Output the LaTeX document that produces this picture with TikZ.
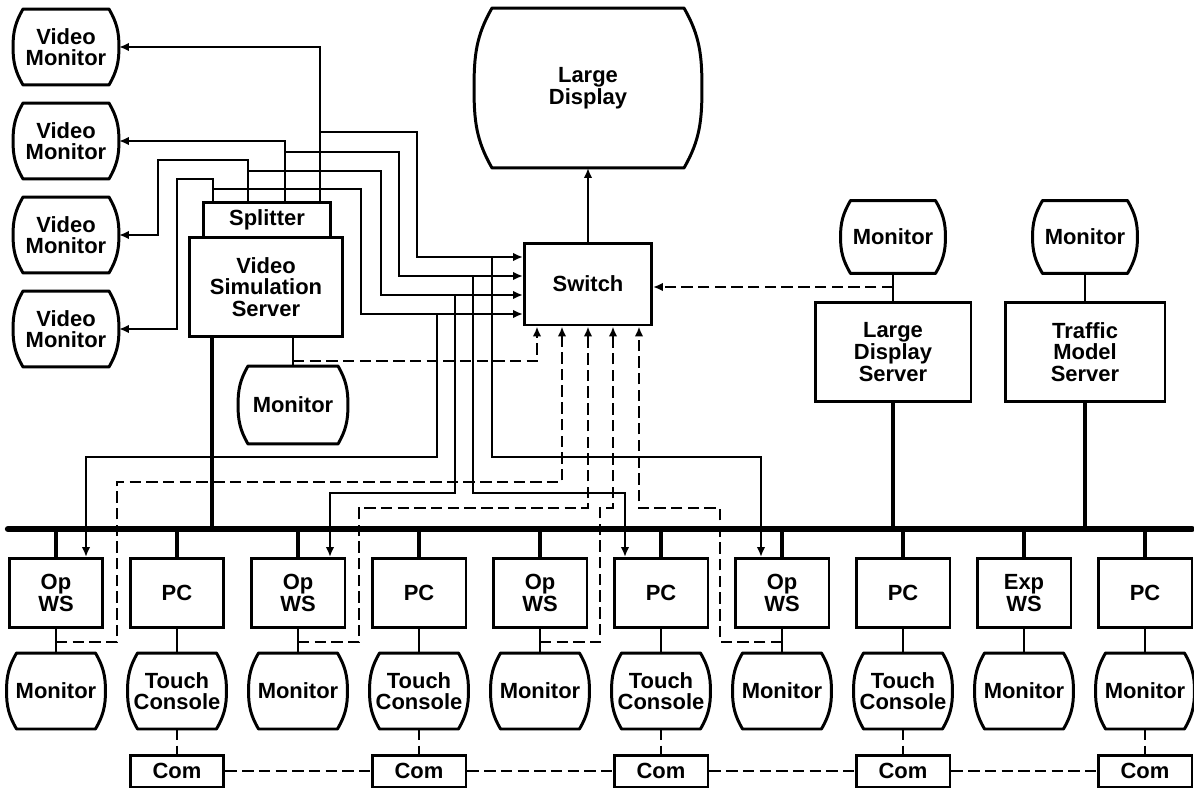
\documentclass[tikz,border=0pt]{standalone}
\usepackage{fontspec}
\setmainfont{Liberation Sans}
\usetikzlibrary{arrows.meta}

\begin{document}
\begin{tikzpicture}[x=0.02cm, y=-0.02cm,
    box/.style={draw, line width=1.7pt, align=center, inner sep=1pt,
      font=\bfseries\fontsize{12.5}{12.3}\selectfont},
    unit/.style={box, minimum width=1.88cm, minimum height=1.38cm},
    scr/.style={box, draw=none, append after command={\pgfextra{
        \draw[line width=1.7pt, line join=round]
          ([xshift=#1]\tikzlastnode.north west) -- ([xshift=-#1]\tikzlastnode.north east)
          to[out=-60, in=90] (\tikzlastnode.east)
          to[out=-90, in=60] ([xshift=-#1]\tikzlastnode.south east)
          -- ([xshift=#1]\tikzlastnode.south west)
          to[out=120, in=-90] (\tikzlastnode.west)
          to[out=90, in=-120] cycle;}}},
    scr/.default=2mm,
    low/.style={scr, minimum width=1.92cm, minimum height=1.46cm},
    com/.style={box, minimum width=1.88cm, minimum height=0.64cm},
    ln/.style={line width=1.4pt},
    dln/.style={ln, dash pattern=on 6.5pt off 3pt},
    fl/.style={ln, -{Latex[length=2mm, width=1.7mm]}},
    dfl/.style={dln, -{Latex[length=2mm, width=1.7mm]}},
    bus/.style={line width=3.6pt, line cap=round},
    tap/.style={line width=2.8pt}
  ]
  \useasboundingbox (0,0) rectangle (1194,788);

  % video side
  \foreach \i/\y in {1/47, 2/141, 3/235, 4/329}
    \node[scr, minimum width=2.06cm, minimum height=1.46cm] (vm\i) at (66,\y) {Video\\Monitor};
  \node[box, minimum width=2.54cm, minimum height=0.7cm] (split) at (267,220) {Splitter};
  \node[box, minimum width=3.06cm, minimum height=1.98cm] (vss) at (266,287) {Video\\Simulation\\Server};
  \node[scr, minimum width=2.14cm, minimum height=1.5cm] (vmon) at (293,405) {Monitor};

  \node[scr=3.6mm, minimum width=4.5cm, minimum height=3.14cm] (disp) at (588,88) {Large\\Display};
  \node[box, minimum width=2.54cm, minimum height=1.64cm] (sw) at (588,284) {Switch};

  % servers on the right
  \node[scr, minimum width=2.04cm, minimum height=1.4cm] (ldmon) at (893,237) {Monitor};
  \node[box, minimum width=3.12cm, minimum height=1.98cm] (lds) at (893,352) {Large\\Display\\Server};
  \node[scr, minimum width=2.04cm, minimum height=1.4cm] (tmmon) at (1085,237) {Monitor};
  \node[box, minimum width=3.2cm, minimum height=1.98cm] (tms) at (1085,352) {Traffic\\Model\\Server};

  % workstations and PCs
  \foreach \n/\x/\lbl in {ws1/56/{Op\\WS}, pc1/177/PC, ws2/298/{Op\\WS}, pc2/419/PC,
      ws3/540/{Op\\WS}, pc3/661/PC, ws4/782/{Op\\WS}, pc4/903/PC,
      exws/1024/{Exp\\WS}, pc5/1145/PC}
    \node[unit] (\n) at (\x,593) {\lbl};

  \foreach \n/\m/\lbl in {ws1/m1/Monitor, pc1/tc1/{Touch\\Console}, ws2/m2/Monitor,
      pc2/tc2/{Touch\\Console}, ws3/m3/Monitor, pc3/tc3/{Touch\\Console},
      ws4/m4/Monitor, pc4/tc4/{Touch\\Console}, exws/m5/Monitor, pc5/m6/Monitor} {
    \node[low] (\m) at (\n |- 0,691) {\lbl};
    \draw[ln] (\n) -- (\m);
  }

  \foreach \i/\m in {1/tc1, 2/tc2, 3/tc3, 4/tc4, 5/m6} {
    \node[com] (com\i) at (\m |- 0,771) {Com};
    \draw[dln] (\m) -- (com\i);
  }
  \foreach \a/\b in {com1/com2, com2/com3, com3/com4, com4/com5}
    \draw[dln] (\a) -- (\b);

  % bus
  \coordinate (busL) at (8,529);
  \coordinate (busR) at (1192,529);
  \draw[bus] (busL) -- (busR);
  \foreach \n in {ws1,pc1,ws2,pc2,ws3,pc3,ws4,pc4,exws,pc5}
    \draw[tap] (\n.north |- busL) -- (\n.north);
  \draw[tap] (vss.south -| 212,0) -- (busL -| 212,0);
  \draw[tap] (lds.south) -- (lds.south |- busL);
  \draw[tap] (tms.south) -- (tms.south |- busL);

  \draw[ln] (vss.south -| vmon.north) -- (vmon.north);
  \draw[ln] (ldmon) -- (lds);
  \draw[ln] (tmmon) -- (tms);

  % video lines
  \foreach \i/\x in {1/213, 2/248, 3/285, 4/320}
    \coordinate (o\i) at (split.north -| \x,0);
  \foreach \i/\y in {1/257, 2/276, 3/295, 4/314}
    \coordinate (i\i) at (sw.west |- 0,\y);
  \foreach \i/\x in {1/537, 2/562, 3/588, 4/613, 5/639}
    \coordinate (b\i) at (sw.south -| \x,0);

  \draw[fl] (o4) |- (vm1);
  \draw[fl] (o3) |- (vm2);
  \draw[fl] (o2) |- (158,160) |- (vm3);
  \draw[fl] (o1) |- (177,179) |- (vm4);

  \draw[fl] (o4 |- 0,132) -| (417,257) -- (i1);
  \draw[fl] (o3 |- 0,152) -| (399,276) -- (i2);
  \draw[fl] (o2 |- 0,171) -| (381,295) -- (i3);
  \draw[fl] (o1 |- 0,189) -| (361,314) -- (i4);

  \draw[fl] (i1 -| 492,0) |- (761,457) -- (ws4.north -| 761,0);
  \draw[fl] (i2 -| 473,0) |- (625,493) -- (pc3.north -| 625,0);
  \draw[fl] (i3 -| 455,0) |- (330,493) -- (ws2.north -| 330,0);
  \draw[fl] (i4 -| 437,0) |- (86,457) -- (ws1.north -| 86,0);

  \draw[fl] (sw) -- (disp);

  % control lines
  \draw[dfl] (vmon.north |- 0,361) -| (b1);
  \draw[dfl] (ws1.south |- 0,642) -| (117,482) -| (b2);
  \draw[dfl] (ws2.south |- 0,642) -| (359,508) -| (b3);
  \draw[dfl] (ws3.south |- 0,642) -| (600,508) -| (b4);
  \draw[dfl] (ws4.south |- 0,642) -| (720,508) -| (b5);
  \draw[dfl] (ldmon.south |- 0,287) -- (sw.east |- 0,287);
\end{tikzpicture}
\end{document}
